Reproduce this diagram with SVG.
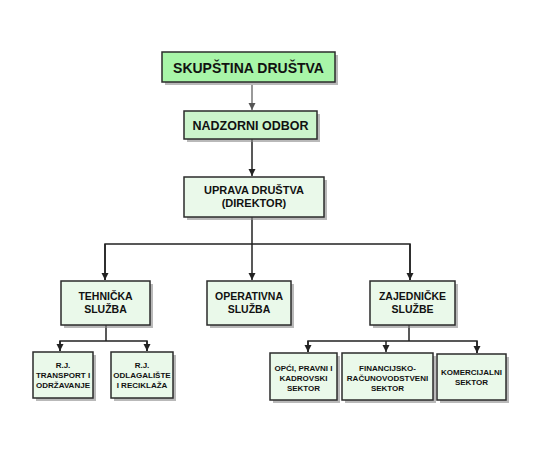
<svg xmlns="http://www.w3.org/2000/svg" width="539" height="457" viewBox="0 0 539 457">
<defs>
<style>
.box{stroke:#2b2b2b;stroke-width:1.5}
.sh{fill:#8a8a8a;opacity:0.6}
.l0{fill:#a8f5a8}
.l1{fill:#ccf5cc}
.l2{fill:#eaf9ea}
text{font-family:"Liberation Sans",Arial,sans-serif;font-weight:bold;fill:#111;text-anchor:middle}
.t0{font-size:14px}
.t1{font-size:12.5px}
.t2{font-size:11px}
.t3{font-size:10.5px}
.t4{font-size:8px}
.c{stroke:#222;stroke-width:1.5;fill:none}
</style>
<marker id="ah" markerWidth="8" markerHeight="8" refX="7" refY="4" orient="auto" markerUnits="userSpaceOnUse">
<path d="M0,0.5 L7,4 L0,7.5 Z" fill="#222"/>
</marker>
<marker id="ahg" markerWidth="8" markerHeight="8" refX="7" refY="4" orient="auto" markerUnits="userSpaceOnUse">
<path d="M0,0.5 L7,4 L0,7.5 Z" fill="#555"/>
</marker>
</defs>
<rect width="539" height="457" fill="#fff"/>
<g id="connectors">
<path d="M252,85 V110" stroke="#777" stroke-width="1.5" fill="none" marker-end="url(#ahg)"/>
<path class="c" d="M252,139 V176" marker-end="url(#ah)"/>
<path class="c" d="M252,217 V280" marker-end="url(#ah)"/>
<path class="c" d="M105,280 V244 H410 V280" />
<path class="c" d="M105,244 V280" marker-end="url(#ah)"/>
<path class="c" d="M410,244 V280" marker-end="url(#ah)"/>
<path class="c" d="M106,325 V341"/>
<path class="c" d="M60,351 V341 H147 V351"/>
<path class="c" d="M60,341 V351" marker-end="url(#ah)"/>
<path class="c" d="M147,341 V351" marker-end="url(#ah)"/>
<path class="c" d="M409,325 V341"/>
<path class="c" d="M308,352 V341 H477 V353"/>
<path class="c" d="M308,341 V352" marker-end="url(#ah)"/>
<path class="c" d="M386,341 V352" marker-end="url(#ah)"/>
<path class="c" d="M477,341 V353" marker-end="url(#ah)"/>
</g>
<g id="skupstina">
<rect class="sh" x="165" y="55" width="173" height="30"/>
<rect class="box l0" x="162" y="52" width="173" height="30"/>
<text class="t0" x="248.5" y="72.5">SKUPŠTINA DRUŠTVA</text>
</g>
<g id="nadzorni">
<rect class="sh" x="187" y="114" width="133" height="28"/>
<rect class="box l1" x="184" y="111" width="133" height="28"/>
<text class="t1" x="250.5" y="130">NADZORNI ODBOR</text>
</g>
<g id="uprava">
<rect class="sh" x="187" y="180" width="140" height="40"/>
<rect class="box l2" x="184" y="177" width="140" height="40"/>
<text class="t2" x="254" y="194">UPRAVA DRUŠTVA</text>
<text class="t2" x="254" y="207">(DIREKTOR)</text>
</g>
<g id="tehnicka">
<rect class="sh" x="64" y="284" width="89" height="44"/>
<rect class="box l2" x="61" y="281" width="89" height="44"/>
<text class="t3" x="105.5" y="300">TEHNIČKA</text>
<text class="t3" x="105.5" y="313">SLUŽBA</text>
</g>
<g id="operativna">
<rect class="sh" x="210" y="284" width="84" height="44"/>
<rect class="box l2" x="207" y="281" width="84" height="44"/>
<text class="t3" x="249" y="300">OPERATIVNA</text>
<text class="t3" x="249" y="313">SLUŽBA</text>
</g>
<g id="zajednicke">
<rect class="sh" x="373" y="284" width="85" height="44"/>
<rect class="box l2" x="370" y="281" width="85" height="44"/>
<text class="t3" x="412.5" y="300">ZAJEDNIČKE</text>
<text class="t3" x="412.5" y="313">SLUŽBE</text>
</g>
<g id="rj-transport">
<rect class="sh" x="36" y="355" width="60" height="46"/>
<rect class="box l2" x="33" y="352" width="60" height="46"/>
<text class="t4" x="63" y="368">R.J.</text>
<text class="t4" x="63" y="378">TRANSPORT I</text>
<text class="t4" x="63" y="388">ODRŽAVANJE</text>
</g>
<g id="rj-odlagaliste">
<rect class="sh" x="114" y="355" width="62" height="46"/>
<rect class="box l2" x="111" y="352" width="62" height="46"/>
<text class="t4" x="142" y="368">R.J.</text>
<text class="t4" x="142" y="378">ODLAGALIŠTE</text>
<text class="t4" x="142" y="388">I RECIKLAŽA</text>
</g>
<g id="opci">
<rect class="sh" x="273" y="356" width="67" height="47"/>
<rect class="box l2" x="270" y="353" width="67" height="47"/>
<text class="t4" x="303.5" y="371">OPĆI, PRAVNI I</text>
<text class="t4" x="303.5" y="381">KADROVSKI</text>
<text class="t4" x="303.5" y="391">SEKTOR</text>
</g>
<g id="financijsko">
<rect class="sh" x="345" y="356" width="91" height="47"/>
<rect class="box l2" x="342" y="353" width="91" height="47"/>
<text class="t4" x="387.5" y="371">FINANCIJSKO-</text>
<text class="t4" x="387.5" y="381">RAČUNOVODSTVENI</text>
<text class="t4" x="387.5" y="391">SEKTOR</text>
</g>
<g id="komercijalni">
<rect class="sh" x="440" y="357" width="69" height="46"/>
<rect class="box l2" x="437" y="354" width="69" height="46"/>
<text class="t4" x="471.5" y="375">KOMERCIJALNI</text>
<text class="t4" x="471.5" y="385">SEKTOR</text>
</g>
</svg>
